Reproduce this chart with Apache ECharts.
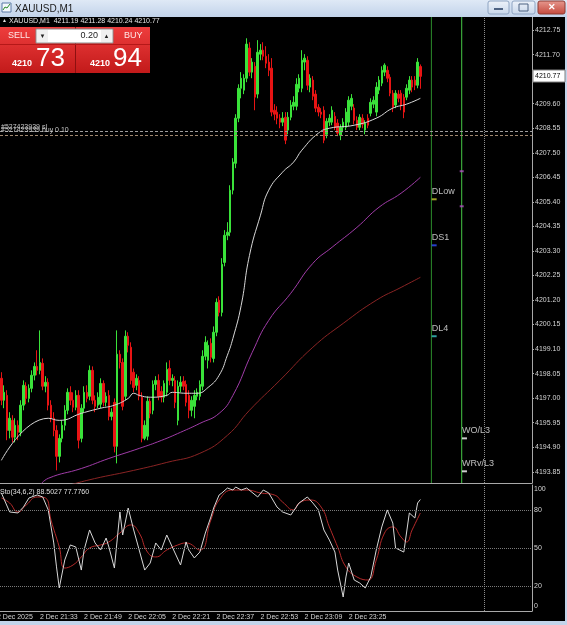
<!DOCTYPE html>
<html><head><meta charset="utf-8">
<script src="https://cdn.jsdelivr.net/npm/echarts@6/dist/echarts.min.js"></script>
<style>html,body{margin:0;padding:0;background:#000;}#c{width:567px;height:625px;}</style>
</head><body><div id="c"></div>
<script>
// ---------- data ----------
const symbolName = 'XAUUSD,M1';
const dateLabel = '2 Dec 2025';
const datePrefix = '2 Dec ';
const startMinute = 21 * 60 + 19;   // first bar 21:19
const slotCount = 193;              // bars + empty shift area
const opens = [4197.85,4196.91,4197.12,4195.62,4196.05,4195.33,4195.84,4195.54,4196.70,4197.51,
4196.99,4197.42,4197.98,4198.36,4198.19,4198.49,4197.51,4197.68,4196.70,4196.14,
4195.62,4194.51,4195.28,4195.84,4196.48,4197.25,4196.91,4196.61,4197.12,4195.28,
4196.57,4197.25,4197.08,4198.19,4196.91,4196.70,4196.74,4197.63,4196.82,4197.12,
4196.22,4196.82,4194.94,4198.88,4198.53,4197.08,4199.65,4199.18,4198.11,4197.55,
4197.76,4197.04,4195.28,4195.37,4196.87,4196.48,4197.59,4197.76,4197.29,4197.04,
4197.25,4198.27,4197.76,4197.76,4196.05,4197.51,4197.72,4197.59,4197.12,4196.48,
4196.65,4197.08,4197.08,4197.51,4198.79,4198.62,4199.35,4198.70,4199.82,4201.19,
4200.67,4202.81,4203.97,4204.10,4205.90,4207.05,4208.98,4210.26,4210.18,4210.69,
4211.98,4210.95,4211.20,4210.01,4211.72,4211.89,4211.63,4211.38,4211.12,4209.32,
4209.24,4208.98,4208.81,4209.02,4208.47,4209.02,4209.49,4209.49,4210.26,4210.26,
4211.38,4211.46,4210.31,4210.61,4210.01,4209.45,4209.24,4209.32,4208.29,4208.81,
4208.81,4209.06,4208.77,4208.25,4208.59,4208.59,4208.81,4209.49,4209.41,4208.89,
4208.59,4208.98,4208.47,4208.98,4209.19,4209.58,4209.24,4210.18,4210.48,4210.95,
4211.03,4210.73,4210.05,4209.54,4210.01,4210.05,4209.88,4209.88,4210.18,4210.61,
4210.61,4210.39,4211.19];
const closes = [4196.91,4197.25,4195.62,4196.14,4195.33,4195.84,4195.54,4196.70,4197.55,4196.99,
4197.42,4197.98,4198.36,4198.19,4198.53,4197.51,4197.68,4196.70,4196.14,4195.62,
4194.51,4195.28,4195.84,4196.48,4197.25,4196.91,4196.61,4197.12,4195.20,4196.57,
4197.25,4196.99,4198.19,4196.91,4196.65,4197.04,4197.63,4196.82,4197.08,4196.22,
4196.40,4194.94,4198.88,4198.53,4196.65,4199.65,4199.26,4197.76,4197.46,4197.85,
4197.08,4195.28,4195.84,4196.87,4196.35,4197.59,4197.76,4197.08,4197.04,4197.63,
4198.23,4197.76,4197.85,4196.82,4197.51,4197.68,4197.51,4196.82,4196.48,4196.91,
4197.12,4197.25,4197.59,4198.79,4199.39,4199.26,4198.75,4199.82,4201.10,4200.67,
4202.73,4203.97,4204.10,4205.90,4207.10,4208.98,4210.26,4210.69,4210.69,4212.15,
4210.95,4211.38,4209.88,4211.80,4211.89,4211.63,4211.33,4211.03,4209.24,4209.15,
4208.98,4208.81,4208.98,4208.04,4209.02,4209.54,4209.66,4210.43,4210.69,4211.46,
4211.55,4210.39,4210.69,4209.92,4209.41,4209.24,4209.15,4208.04,4208.85,4208.98,
4209.32,4208.59,4208.34,4208.59,4208.81,4209.24,4209.75,4209.83,4208.89,4208.59,
4209.02,4208.72,4208.77,4208.68,4209.66,4209.75,4210.31,4210.61,4211.03,4211.25,
4210.69,4210.05,4209.45,4210.05,4209.83,4209.54,4209.24,4210.26,4210.61,4210.31,
4210.39,4211.38,4210.77];
const highs = [4198.11,4197.55,4197.34,4196.40,4196.27,4196.14,4196.05,4196.91,4197.76,4197.68,
4197.59,4198.19,4198.53,4199.05,4199.90,4198.70,4197.94,4197.85,4196.91,4196.40,
4195.84,4195.45,4196.05,4196.70,4197.42,4197.51,4197.25,4197.34,4197.34,4196.74,
4197.51,4197.55,4198.40,4198.36,4197.12,4197.25,4197.85,4197.76,4197.25,4197.34,
4196.57,4196.99,4199.90,4199.05,4198.70,4199.90,4199.82,4199.39,4198.27,4198.02,
4197.94,4197.25,4196.05,4197.08,4196.99,4197.76,4197.94,4198.02,4197.51,4197.76,
4198.53,4198.62,4198.02,4197.94,4197.76,4197.94,4197.94,4197.76,4197.34,4197.08,
4197.34,4197.42,4197.76,4199.05,4199.65,4199.47,4199.56,4200.07,4201.27,4201.36,
4202.99,4204.19,4204.53,4206.11,4207.27,4209.15,4210.43,4210.95,4210.86,4212.40,
4212.23,4211.55,4211.38,4212.32,4212.15,4212.23,4212.06,4211.72,4211.55,4209.58,
4209.49,4209.15,4209.24,4209.24,4209.24,4209.75,4209.92,4210.69,4210.86,4211.89,
4211.72,4211.63,4210.86,4210.78,4210.18,4209.58,4209.41,4209.49,4208.98,4209.15,
4209.49,4209.24,4208.94,4208.72,4208.98,4209.41,4209.92,4210.01,4209.58,4209.06,
4209.15,4209.15,4208.89,4209.15,4209.83,4209.92,4210.52,4210.78,4211.20,4211.33,
4211.20,4210.86,4210.18,4210.18,4210.18,4210.18,4210.01,4210.43,4210.78,4210.78,
4210.78,4211.55,4211.28];
const lows = [4196.70,4196.57,4195.20,4195.28,4195.11,4195.11,4195.20,4195.37,4196.48,4196.74,
4196.82,4197.25,4197.76,4197.98,4198.02,4197.34,4197.25,4196.48,4195.97,4195.37,
4193.91,4194.25,4195.11,4195.62,4196.31,4196.70,4196.40,4196.48,4194.85,4195.11,
4196.40,4196.82,4196.91,4196.74,4196.40,4196.57,4196.57,4196.65,4196.65,4196.05,
4196.05,4194.68,4194.21,4198.27,4196.48,4196.91,4198.96,4197.59,4197.25,4197.34,
4196.91,4195.11,4195.20,4195.20,4196.14,4196.31,4197.34,4196.91,4196.82,4196.82,
4197.08,4197.55,4197.51,4196.57,4195.84,4197.25,4197.34,4196.65,4196.14,4196.22,
4196.14,4196.91,4196.91,4197.34,4198.62,4198.27,4198.53,4198.53,4199.65,4200.50,
4200.50,4202.64,4203.76,4203.93,4205.72,4206.84,4208.81,4209.83,4210.01,4210.52,
4210.78,4210.69,4209.32,4209.83,4211.46,4211.46,4211.12,4210.78,4209.06,4208.89,
4208.72,4208.55,4208.64,4207.87,4208.29,4208.89,4209.32,4209.32,4210.09,4210.09,
4211.03,4210.18,4210.09,4209.75,4209.24,4209.06,4208.98,4207.91,4208.12,4208.64,
4208.68,4208.47,4208.21,4208.04,4208.38,4208.47,4208.64,4209.32,4208.72,4208.47,
4208.47,4208.55,4208.29,4208.55,4209.06,4209.41,4209.06,4210.01,4210.35,4210.78,
4210.52,4209.92,4209.24,4209.41,4209.66,4209.32,4208.98,4209.75,4210.01,4210.09,
4210.18,4210.26,4210.24];

const maFastIdx = [0,17,21,29,36,41,46,48,50,54,60,62,67,71,75,79,82,84,87,90,94,97,102,106,109,115,119,128,136,142,147,152];
const maFast = [4194.34,4196.14,4196.05,4196.35,4196.57,4196.70,4196.99,4197.21,4197.12,4197.04,4197.12,4197.25,4197.21,4197.21,4197.46,4197.98,4198.84,4199.56,4200.97,4203.11,4204.83,4205.90,4206.67,4207.10,4207.61,4208.34,4208.55,4208.68,4208.98,4209.41,4209.58,4209.83];
const maMidIdx = [14,17,29,39,50,58,65,72,79,84,91,97,105,113,120,129,137,145,152];
const maMid = [4193.27,4193.57,4193.99,4194.42,4194.85,4195.19,4195.54,4195.92,4196.35,4197.12,4198.96,4200.33,4201.49,4202.77,4203.46,4204.31,4205.17,4205.77,4206.45];
const maSlowIdx = [21,31,48,60,72,82,90,101,113,124,136,145,152];
const maSlow = [4193.14,4193.48,4193.91,4194.25,4194.64,4195.41,4196.48,4197.76,4199.18,4200.20,4201.19,4201.74,4202.17];

const stoKIdx = [0,3,6,8,10,13,15,17,19,20,21,23,25,27,29,30,32,34,36,38,39,41,43,44,46,48,50,52,54,56,58,60,62,65,67,68,70,72,74,76,77,79,80,82,84,85,87,89,93,95,97,100,102,105,108,111,113,115,117,119,121,122,124,125,126,128,130,132,134,136,138,140,142,143,146,148,150,151,152];
const stoK = [93.7,78.6,77.8,82.5,89.7,92.1,90.5,80.2,54.0,35.0,18.3,40.5,52.4,50.8,32.5,48.4,64.3,54.0,48.4,57.9,50.8,34.1,78.6,60.3,81.7,64.3,48.4,32.5,38.1,54.0,48.4,60.3,50.8,36.5,54.8,48.4,42.1,46.8,61.9,74.6,81.7,92.1,93.7,97.6,96.0,98.4,96.0,97.6,90.5,96.0,93.7,82.5,78.6,76.2,85.7,90.5,85.7,80.2,64.3,56.3,46.8,32.5,11.1,27.0,38.1,24.6,22.2,18.3,27.0,48.4,66.7,80.2,69.8,50.0,46.8,77.8,73.8,85.7,88.5027];
const stoDIdx = [0,3,6,9,13,16,18,21,23,26,29,32,36,39,43,47,50,53,56,60,64,67,72,76,79,84,89,94,99,102,106,108,112,116,119,122,125,129,133,136,139,142,145,147,149,152];
const stoD = [89.7,85.7,78.6,84.1,90.5,89.7,72.2,50.8,34.1,36.5,42.9,50.0,52.4,54.8,61.9,68.3,61.9,46.8,42.9,48.4,52.4,54.0,48.4,72.2,88.1,96.0,96.0,93.7,92.1,86.5,80.2,85.7,88.1,82.5,66.7,50.8,34.9,27.0,24.6,40.5,61.9,66.7,58.7,54.8,64.3,77.776];
const stoLevels = [20, 50, 80];
const stoTicks = [0, 20, 50, 80, 100];
const stoParams = 'Sto(34,6,2)';

const priceTicks = [4193.85,4194.90,4195.95,4197.00,4198.05,4199.10,4200.15,4201.20,4202.25,4203.30,4204.35,4205.40,4206.45,4207.50,4208.55,4209.60,4210.65,4211.70,4212.75];
const timeTickIdx = [14,30,46,62,78,94,110,126];

const orderLines = [4208.40, 4208.26];
const orderTexts = ['#527423939 sl', '#527423939 buy 0.10'];
const vLineIdx = [156, 167];
const vLineColors = ['#2c8c2c', '#46c846'];
const dottedIdx = 175;

const levelNames = ['DLow','DS1','DL4','WO/L3','WRv/L3'];
const levelIdx = [157,157,157,168,168];
const levelPrices = [4205.51,4203.54,4199.65,4195.28,4193.87];
const levelColors = ['#c8c832','#3050ff','#3cc8c8','#ffffff','#ffffff'];
const pivotIdx = [167,167];
const pivotPrices = [4206.71,4205.21];

const bid = 4210.73, ask = 4210.94, lot = '0.20';

// ---------- build ----------
const categories = [];
for (let i = 0; i < slotCount; i++) {
  const m = startMinute + i;
  const hh = Math.floor(m / 60) % 24, mm = m % 60;
  categories.push(String(hh).padStart(2,'0') + ':' + String(mm).padStart(2,'0'));
}
const candleData = opens.map((o, i) => [o, closes[i], lows[i], highs[i]]);
const pairs = (idx, vals) => idx.map((x, i) => [x, vals[i]]);
const n = closes.length - 1;
const FONT = '"Liberation Sans", Arial, sans-serif';
const AX = '#a8a8a8', TXT = '#d4d4d4';

const chart = echarts.init(document.getElementById('c'), null, {width:567, height:625});
const pMin = 4193.37, pMax = 4213.31;

const vLineSeries = vLineIdx.map((ix, k) => ({
  type:'line', xAxisIndex:0, yAxisIndex:0, data:[[ix, pMin], [ix, pMax]], symbol:'none', silent:true,
  lineStyle:{color:vLineColors[k], width:1}, z:2
}));

const option = {
  animation: false,
  backgroundColor: '#000',
  grid: [
    {left: 0, top: 17, width: 532, height: 466},
    {left: 0, top: 485, width: 532, height: 126}
  ],
  xAxis: [
    {type:'category', gridIndex:0, data:categories, boundaryGap:true,
     axisLine:{show:true, lineStyle:{color:AX, width:1}}, axisTick:{show:false}, axisLabel:{show:false}, splitLine:{show:false}},
    {type:'category', gridIndex:1, data:categories, boundaryGap:true,
     axisLine:{show:true, lineStyle:{color:AX, width:1}}, axisTick:{show:false}, splitLine:{show:false},
     axisLabel:{show:true, color:TXT, fontSize:7, fontFamily:FONT, align:'left', margin:3,
       interval:(idx) => timeTickIdx.indexOf(idx) >= 0,
       formatter:(v) => datePrefix + v}}
  ],
  yAxis: [
    {type:'value', gridIndex:0, position:'right', min:pMin, max:pMax, scale:true,
     axisLine:{show:true, lineStyle:{color:AX, width:1}},
     axisTick:{show:true, length:2, lineStyle:{color:AX}, customValues:priceTicks},
     axisLabel:{show:true, color:TXT, fontSize:7, fontFamily:FONT, margin:3, customValues:priceTicks,
       formatter:(v) => v.toFixed(2)},
     splitLine:{show:false}},
    {type:'value', gridIndex:1, position:'right', min:0, max:100,
     axisLine:{show:true, lineStyle:{color:AX, width:1}},
     axisTick:{show:false},
     axisLabel:{show:true, color:TXT, fontSize:7, fontFamily:FONT, margin:2, customValues:stoTicks,
       formatter:(v) => v === 100 ? '{t|100}' : (v === 0 ? '{b|0}' : String(v)),
       rich:{t:{padding:[9,0,0,0], fontSize:7, color:TXT, fontFamily:FONT}, b:{padding:[0,0,9,0], fontSize:7, color:TXT, fontFamily:FONT}}},
     splitLine:{show:false}}
  ],
  series: vLineSeries.concat([
    {type:'candlestick', xAxisIndex:0, yAxisIndex:0, data:candleData, barWidth:2,
     itemStyle:{color:'#3ae23a', color0:'#e81414', borderColor:'#3ae23a', borderColor0:'#e81414', borderWidth:1},
     markLine:{silent:true, symbol:['none','none'], animation:false,
       data:[
         {yAxis:orderLines[0], lineStyle:{color:'#9c9c9c', type:[3,2], width:1},
          label:{show:true, position:'insideStartTop', formatter:orderTexts[0], color:'#c8c8c8', fontSize:7, fontFamily:FONT, distance:1}},
         {yAxis:orderLines[1], lineStyle:{color:'#a08870', type:[3,2], width:1},
          label:{show:true, position:'insideStartTop', formatter:orderTexts[1], color:'#c8c8c8', fontSize:7, fontFamily:FONT, distance:1}},
         {xAxis:categories[dottedIdx], lineStyle:{color:'#8c8c8c', type:'dotted', width:1}, label:{show:false}}
       ]}},
    {type:'line', xAxisIndex:0, yAxisIndex:0, data:pairs(maFastIdx, maFast), smooth:true, symbol:'none', lineStyle:{color:'#d8d8d8', width:1}, z:3},
    {type:'line', xAxisIndex:0, yAxisIndex:0, data:pairs(maMidIdx, maMid), smooth:true, symbol:'none', lineStyle:{color:'#a03ca8', width:1}, z:3},
    {type:'line', xAxisIndex:0, yAxisIndex:0, data:pairs(maSlowIdx, maSlow), smooth:true, symbol:'none', lineStyle:{color:'#8a2424', width:1}, z:3},
    {type:'scatter', xAxisIndex:0, yAxisIndex:0, symbol:'rect', symbolSize:[5,2], z:4,
     data: levelNames.map((nm, i) => ({value:[levelIdx[i], levelPrices[i]], name:nm, itemStyle:{color:levelColors[i]}})),
     label:{show:true, position:[0,-11], formatter:(p) => p.name, color:'#e8e8e8', fontSize:9, fontFamily:FONT}},
    {type:'scatter', xAxisIndex:0, yAxisIndex:0, symbol:'rect', symbolSize:[4,2], z:4,
     data: pivotIdx.map((x, i) => [x, pivotPrices[i]]), itemStyle:{color:'#b050c0'}},
    {type:'line', xAxisIndex:1, yAxisIndex:1, data:pairs(stoKIdx, stoK), smooth:false, symbol:'none', lineStyle:{color:'#d8d8d8', width:1}, z:4,
     markLine:{silent:true, symbol:['none','none'], animation:false,
       data: stoLevels.map(v => ({yAxis:v, lineStyle:{color:'#7a7a7a', type:'dotted', width:1}, label:{show:false}}))
         .concat([{xAxis:categories[dottedIdx], lineStyle:{color:'#8c8c8c', type:'dotted', width:1}, label:{show:false}}])}},
    {type:'line', xAxisIndex:1, yAxisIndex:1, data:pairs(stoDIdx, stoD), smooth:true, symbol:'none', lineStyle:{color:'#b42a2a', width:1}, z:3}
  ])
};
chart.setOption(option);

// ---------- overlays ----------
const lastY = chart.convertToPixel({yAxisIndex:0}, closes[n]);
const grad = (a, b) => new echarts.graphic.LinearGradient(0,0,0,1,[{offset:0,color:a},{offset:1,color:b}]);
const bidStr = bid.toFixed(2), askStr = ask.toFixed(2);
const g = [
  // title bar
  {type:'rect', shape:{x:0,y:0,width:567,height:17}, style:{fill:grad('#dfe9f6','#c2d3ea')}, z:100},
  {type:'rect', shape:{x:2,y:3,width:9,height:9}, style:{fill:'#f4f8fc', stroke:'#5a7aa8', lineWidth:1}, z:101},
  {type:'polyline', shape:{points:[[3,10],[5,7],[7,8],[10,4]]}, style:{stroke:'#2a8a2a', lineWidth:1, fill:null}, z:102},
  {type:'text', x:15, y:9, style:{text:symbolName, font:'10px ' + FONT, fill:'#1a1a1a', verticalAlign:'middle'}, z:101},
  {type:'rect', shape:{x:488,y:1,width:21,height:13,r:2}, style:{fill:grad('#eef3fa','#c7d6ea'), stroke:'#8ea4c2'}, z:101},
  {type:'rect', shape:{x:494,y:8,width:9,height:2}, style:{fill:'#4d6282'}, z:102},
  {type:'rect', shape:{x:512,y:1,width:23,height:13,r:2}, style:{fill:grad('#eef3fa','#c7d6ea'), stroke:'#8ea4c2'}, z:101},
  {type:'rect', shape:{x:519,y:4,width:9,height:7}, style:{fill:'none', stroke:'#4d6282', lineWidth:1}, z:102},
  {type:'rect', shape:{x:538,y:1,width:27,height:13,r:2}, style:{fill:grad('#e79a90','#c4473b'), stroke:'#8c3a33'}, z:101},
  {type:'text', x:551.5, y:8, style:{text:'✕', font:'bold 9px ' + FONT, fill:'#ffffff', align:'center', verticalAlign:'middle'}, z:102},
  // window frame
  {type:'rect', shape:{x:0,y:621,width:567,height:4}, style:{fill:'#c3d4ea'}, z:100},
  {type:'rect', shape:{x:565,y:17,width:2,height:608}, style:{fill:'#c3d4ea'}, z:100},
  // header
  {type:'text', x:2, y:21, style:{text:'▲', font:'5px ' + FONT, fill:'#e0e0e0', verticalAlign:'middle'}, z:101},
  {type:'text', x:9, y:21, style:{text:symbolName + '  ' + opens[n].toFixed(2) + ' ' + highs[n].toFixed(2) + ' ' + lows[n].toFixed(2) + ' ' + closes[n].toFixed(2), font:'7px ' + FONT, fill:'#e6e6e6', verticalAlign:'middle'}, z:101},
  // one-click trading panel
  {type:'rect', shape:{x:0,y:27,width:75,height:46}, style:{fill:grad('#ee3d3d','#c21a1a')}, z:101},
  {type:'rect', shape:{x:76,y:27,width:74,height:46}, style:{fill:grad('#ee3d3d','#c21a1a')}, z:101},
  {type:'rect', shape:{x:75,y:27,width:1,height:46}, style:{fill:'#8e1010'}, z:102},
  {type:'rect', shape:{x:0,y:44,width:150,height:1}, style:{fill:'#b51818'}, z:102},
  {type:'rect', shape:{x:36,y:29,width:77,height:14}, style:{fill:'#ffffff', stroke:'#8a8a8a', lineWidth:1}, z:103},
  {type:'rect', shape:{x:37,y:30,width:11,height:12}, style:{fill:'#f0f0f0'}, z:104},
  {type:'rect', shape:{x:101,y:30,width:11,height:12}, style:{fill:'#f0f0f0'}, z:104},
  {type:'text', x:42.5, y:36, style:{text:'▼', font:'6px ' + FONT, fill:'#222', align:'center', verticalAlign:'middle'}, z:105},
  {type:'text', x:106.5, y:36, style:{text:'▲', font:'6px ' + FONT, fill:'#222', align:'center', verticalAlign:'middle'}, z:105},
  {type:'text', x:98, y:36, style:{text:lot, font:'9px ' + FONT, fill:'#222', align:'right', verticalAlign:'middle'}, z:105},
  {type:'text', x:8, y:36, style:{text:'SELL', font:'9px ' + FONT, fill:'#ffe8e8', verticalAlign:'middle'}, z:103},
  {type:'text', x:124, y:36, style:{text:'BUY', font:'9px ' + FONT, fill:'#ffe8e8', verticalAlign:'middle'}, z:103},
  {type:'text', x:12, y:64, style:{text:bidStr.slice(0,4), font:'bold 9px ' + FONT, fill:'#ffffff', verticalAlign:'middle'}, z:103},
  {type:'text', x:36, y:59, style:{text:bidStr.slice(5), font:'26px ' + FONT, fill:'#ffffff', verticalAlign:'middle'}, z:103},
  {type:'text', x:90, y:64, style:{text:askStr.slice(0,4), font:'bold 9px ' + FONT, fill:'#ffffff', verticalAlign:'middle'}, z:103},
  {type:'text', x:113, y:59, style:{text:askStr.slice(5), font:'26px ' + FONT, fill:'#ffffff', verticalAlign:'middle'}, z:103},
  // current price box
  {type:'rect', shape:{x:533,y:Math.round(lastY)-6,width:32,height:12}, style:{fill:'#ffffff', stroke:'#808080'}, z:110},
  {type:'text', x:535, y:lastY, style:{text:closes[n].toFixed(2), font:'7px ' + FONT, fill:'#000000', verticalAlign:'middle'}, z:111},
  // stochastic caption & first date label
  {type:'text', x:0, y:492, style:{text:stoParams + ' ' + stoK[stoK.length-1].toFixed(4) + ' ' + stoD[stoD.length-1].toFixed(4), font:'7px ' + FONT, fill:'#e0e0e0', verticalAlign:'middle'}, z:101},
  {type:'text', x:-3, y:617, style:{text:dateLabel, font:'7px ' + FONT, fill:TXT, verticalAlign:'middle'}, z:101}
];
chart.setOption({graphic: g});
</script>
</body></html>
